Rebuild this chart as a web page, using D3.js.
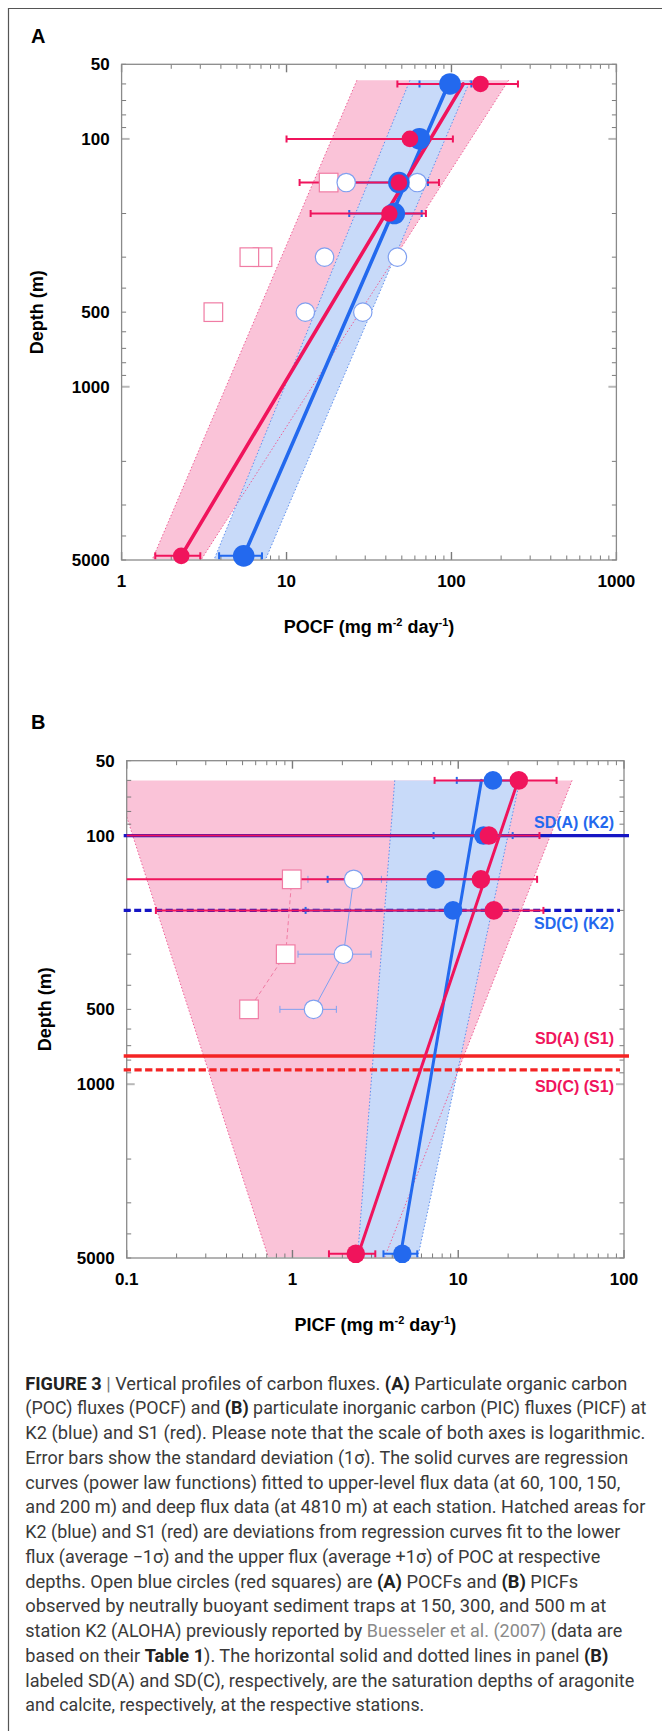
<!DOCTYPE html>
<html>
<head>
<meta charset="utf-8">
<script src="https://cdn.jsdelivr.net/npm/d3@7"></script>
<style>
  body { margin: 0; background: #fff; }
  svg { display: block; font-family: 'Liberation Sans', Arial, sans-serif; }
</style>
</head>
<body>
<svg id="fig" width="662" height="1731"></svg>
<script>
// depths (m)
const depths = [60, 100, 150, 200, 4810];
const nbstDepths = [150, 300, 500];
const regDepths = [60, 4810];
const yTickLabels = [50, 100, 500, 1000, 5000];

// (A) POC flux, mg m-2 day-1
const pocTickLabels = [1, 10, 100, 1000];
const pocK2 = [98, 64, 48, 45, 5.5];
const pocK2Sd = [34, 8, 24, 21, 1.6];
const pocS1 = [150, 56, 48, 42, 2.3];
const pocS1Sd = [103, 46, 36, 28, 0.7];
const pocNbstK2a = [23, 17, 13];
const pocNbstK2b = [62, 47, 29];
const pocAlohaDepths = [150, 300, 300, 500];
const pocAloha = [18, 7.15, 5.95, 3.6];
const pocRegK2 = [96, 5.5];
const pocRegS1 = [118, 2.3];
const pocBandDepths = [58, 4950];
const pocBandK2Lo = [56, 3.65];
const pocBandK2Hi = [130, 7.48];
const pocBandS1Lo = [26.7, 1.54];
const pocBandS1Hi = [222, 3.06];

// (B) PIC flux, mg m-2 day-1
const picTickLabels = [0.1, 1, 10, 100];
const picK2 = [16.2, 14.2, 7.3, 9.3, 4.6];
const picK2Sd = [6.4, 7.1, 5.67, 8.1, 1.06];
const picS1 = [23.2, 15.3, 13.7, 16.4, 2.41];
const picS1Sd = [16, 15.6, 16.2, 16.25, 0.75];
const picNbstK2 = [2.34, 2.03, 1.34];
const picNbstK2Sd = [1.1, 0.95, 0.5];
const picAloha = [0.99, 0.91, 0.547];
const picRegK2 = [13.8, 4.5];
const picRegS1 = [23, 2.5];
const picBandDepths = [60, 4950];
const picBandK2Lo = [4.14, 2.47];
const picBandK2Hi = [23.5, 5.71];
const picBandS1Lo = [0.085, 0.714];
const picBandS1Hi = [48.6, 3.61];

// saturation depths
const sdLabels = ['SD(A) (K2)', 'SD(C) (K2)', 'SD(A) (S1)', 'SD(C) (S1)'];
const sdDepths = [100, 200, 770, 875];

const BLUE = '#2369ee', RED = '#f0145c';
const PINK_FILL = '#fac3d8', BLUE_FILL = '#c8daf9';
const PINK_EDGE = '#ee6196', BLUE_EDGE = '#5e8fee';
const OPEN_BLUE = '#7fa0f0', OPEN_PINK = '#f07ca4';
const NAVY = '#1616c4', SDRED = '#f42424';

const svg = d3.select('#fig');
svg.append('rect').attr('width', 662).attr('height', 1731).attr('fill', '#fff');
svg.append('path').attr('d', 'M8.5,1731 V8.5 H662').attr('fill', 'none').attr('stroke', '#555').attr('stroke-width', 1.2);

const panelA = { key: 'A', left: 121.6, right: 616.4, top: 64.3, bottom: 560, xDomain: [1, 1000] };
const panelB = { key: 'B', left: 126.7, right: 624, top: 760.7, bottom: 1258, xDomain: [0.1, 100] };

function setup(p) {
  p.x = d3.scaleLog().domain(p.xDomain).range([p.left, p.right]);
  p.y = d3.scaleLog().domain([50, 5000]).range([p.top, p.bottom]);
  svg.append('defs').append('clipPath').attr('id', 'clip' + p.key)
    .append('rect')
    .attr('x', p.left).attr('y', p.top)
    .attr('width', p.right - p.left).attr('height', p.bottom - p.top);
  p.g = svg.append('g');
  p.clip = `url(#clip${p.key})`;
}

function band(p, bd, lo, hi, fill) {
  const pts = [[lo[0], bd[0]], [hi[0], bd[0]], [hi[1], bd[1]], [lo[1], bd[1]]];
  p.g.append('polygon')
    .attr('clip-path', p.clip)
    .attr('points', pts.map(d => [p.x(d[0]), p.y(d[1])].join(',')).join(' '))
    .attr('fill', fill);
}

function bandEdges(p, bd, lo, hi, color) {
  [lo, hi].forEach(v => {
    p.g.append('line')
      .attr('clip-path', p.clip)
      .attr('x1', p.x(v[0])).attr('y1', p.y(bd[0]))
      .attr('x2', p.x(v[1])).attr('y2', p.y(bd[1]))
      .attr('stroke', color).attr('stroke-width', 1)
      .attr('stroke-dasharray', '1.5,2');
  });
}

function axes(p, labels) {
  const g = p.g;
  const major = v => Math.abs(Math.log10(v) - Math.round(Math.log10(v))) < 1e-9;
  p.y.ticks().forEach(v => {
    const yy = p.y(v), m = major(v), len = m ? 8 : 4.5;
    [[p.left, 1], [p.right, -1]].forEach(([x0, s]) => {
      g.append('line').attr('x1', x0).attr('x2', x0 + s * len).attr('y1', yy).attr('y2', yy)
        .attr('stroke', m ? '#b8b8b8' : '#7a7a7a').attr('stroke-width', m ? 2 : 1);
    });
  });
  p.x.ticks().forEach(v => {
    const xx = p.x(v), m = major(v), len = m ? 8 : 4.5;
    [[p.top, 1], [p.bottom, -1]].forEach(([y0, s]) => {
      g.append('line').attr('x1', xx).attr('x2', xx).attr('y1', y0).attr('y2', y0 + s * len)
        .attr('stroke', '#7a7a7a').attr('stroke-width', m ? 1.4 : 1);
    });
  });
  g.append('rect')
    .attr('x', p.left).attr('y', p.top)
    .attr('width', p.right - p.left).attr('height', p.bottom - p.top)
    .attr('fill', 'none').attr('stroke', '#8a8a8a').attr('stroke-width', 1.3);

  g.selectAll(null).data(yTickLabels).enter().append('text')
    .attr('x', p.left - 12).attr('y', d => p.y(d)).attr('dy', '0.35em')
    .attr('text-anchor', 'end').attr('font-size', 17).attr('font-weight', 'bold')
    .text(d => d);
  g.selectAll(null).data(labels).enter().append('text')
    .attr('x', d => p.x(d)).attr('y', p.bottom + 26.5)
    .attr('text-anchor', 'middle').attr('font-size', 17).attr('font-weight', 'bold')
    .text(d => d);
}

function titles(p, name, letterY, yTitleX) {
  const g = p.g;
  g.append('text').attr('x', 31).attr('y', letterY)
    .attr('font-size', 20).attr('font-weight', 'bold').text(p.key);
  const t = g.append('text')
    .attr('x', (p.left + p.right) / 2).attr('y', p.bottom + 73)
    .attr('text-anchor', 'middle').attr('font-size', 18).attr('font-weight', 'bold');
  t.append('tspan').text(name + ' (mg m');
  t.append('tspan').attr('dy', -7).attr('font-size', 11).text('-2');
  t.append('tspan').attr('dy', 7).text(' day');
  t.append('tspan').attr('dy', -7).attr('font-size', 11).text('-1');
  t.append('tspan').attr('dy', 7).text(')');
  g.append('text')
    .attr('transform', `translate(${yTitleX},${(p.top + p.bottom) / 2}) rotate(-90)`)
    .attr('text-anchor', 'middle').attr('font-size', 18).attr('font-weight', 'bold')
    .text('Depth (m)');
}

function regLine(p, vals, color, w) {
  p.g.append('line')
    .attr('x1', p.x(vals[0])).attr('y1', p.y(regDepths[0]))
    .attr('x2', p.x(vals[1])).attr('y2', p.y(regDepths[1]))
    .attr('stroke', color).attr('stroke-width', w).attr('stroke-linecap', 'round');
}

function errBars(p, dep, mean, sd, color, w, cap) {
  const g = p.g.append('g').attr('clip-path', p.clip)
    .attr('stroke', color).attr('stroke-width', w);
  mean.forEach((m, i) => {
    const yy = p.y(dep[i]);
    const lo = m - sd[i], hi = m + sd[i];
    const x1 = lo > p.xDomain[0] ? p.x(lo) : p.left - 2;
    const x2 = p.x(hi);
    g.append('line').attr('x1', x1).attr('x2', x2).attr('y1', yy).attr('y2', yy);
    if (lo > p.xDomain[0]) g.append('line').attr('x1', x1).attr('x2', x1).attr('y1', yy - cap).attr('y2', yy + cap);
    g.append('line').attr('x1', x2).attr('x2', x2).attr('y1', yy - cap).attr('y2', yy + cap);
  });
}

function dots(p, dep, vals, r, fill, stroke) {
  p.g.selectAll(null).data(vals).enter().append('circle')
    .attr('cx', d => p.x(d)).attr('cy', (d, i) => p.y(dep[i]))
    .attr('r', r).attr('fill', fill)
    .attr('stroke', stroke || 'none').attr('stroke-width', 1.2);
}

function squares(p, dep, vals, s) {
  p.g.selectAll(null).data(vals).enter().append('rect')
    .attr('x', d => p.x(d) - s / 2).attr('y', (d, i) => p.y(dep[i]) - s / 2)
    .attr('width', s).attr('height', s)
    .attr('fill', '#fff').attr('stroke', OPEN_PINK).attr('stroke-width', 1.2);
}

// ---------- panel A ----------
setup(panelA);
band(panelA, pocBandDepths, pocBandS1Lo, pocBandS1Hi, PINK_FILL);
band(panelA, pocBandDepths, pocBandK2Lo, pocBandK2Hi, BLUE_FILL);
bandEdges(panelA, pocBandDepths, pocBandS1Lo, pocBandS1Hi, PINK_EDGE);
bandEdges(panelA, pocBandDepths, pocBandK2Lo, pocBandK2Hi, BLUE_EDGE);
axes(panelA, pocTickLabels);
titles(panelA, 'POCF', 43, 43);
regLine(panelA, pocRegK2, BLUE, 3.6);
regLine(panelA, pocRegS1, RED, 3.6);
errBars(panelA, depths, pocK2, pocK2Sd, BLUE, 2, 3.5);
errBars(panelA, depths, pocS1, pocS1Sd, RED, 2, 3.5);
squares(panelA, pocAlohaDepths, pocAloha, 18.6);
dots(panelA, nbstDepths, pocNbstK2a, 9.2, '#fff', OPEN_BLUE);
dots(panelA, nbstDepths, pocNbstK2b, 9.2, '#fff', OPEN_BLUE);
dots(panelA, depths, pocK2, 10.8, BLUE);
dots(panelA, depths, pocS1, 8.3, RED);

// ---------- panel B ----------
setup(panelB);
band(panelB, picBandDepths, picBandS1Lo, picBandS1Hi, PINK_FILL);
band(panelB, picBandDepths, picBandK2Lo, picBandK2Hi, BLUE_FILL);
bandEdges(panelB, picBandDepths, picBandS1Lo, picBandS1Hi, PINK_EDGE);
bandEdges(panelB, picBandDepths, picBandK2Lo, picBandK2Hi, BLUE_EDGE);
axes(panelB, picTickLabels);
titles(panelB, 'PICF', 729, 51);

// saturation depth lines
const sdColor = [NAVY, NAVY, SDRED, SDRED];
const sdText = [BLUE, BLUE, RED, RED];
const sdDash = [null, '7,3.5', null, '7.3,3.4'];
const sdDy = [-8, 19, -12, 22];
sdDepths.forEach((d, i) => {
  const yy = panelB.y(d);
  panelB.g.append('line')
    .attr('x1', panelB.left - 3).attr('x2', panelB.right + (sdDash[i] ? -4 : 5))
    .attr('y1', yy).attr('y2', yy)
    .attr('stroke', sdColor[i]).attr('stroke-width', 3.3)
    .attr('stroke-dasharray', sdDash[i]);
  panelB.g.append('text')
    .attr('x', panelB.right - 10).attr('y', yy + sdDy[i])
    .attr('text-anchor', 'end').attr('font-size', 16).attr('font-weight', 'bold')
    .attr('fill', sdText[i]).text(sdLabels[i]);
});

const conn = d3.line().x(d => panelB.x(d[0])).y(d => panelB.y(d[1]));
panelB.g.append('path')
  .attr('d', conn(picAloha.map((v, i) => [v, nbstDepths[i]])))
  .attr('fill', 'none').attr('stroke', OPEN_PINK).attr('stroke-width', 1)
  .attr('stroke-dasharray', '4,3');
panelB.g.append('path')
  .attr('d', conn(picNbstK2.map((v, i) => [v, nbstDepths[i]])))
  .attr('fill', 'none').attr('stroke', OPEN_BLUE).attr('stroke-width', 1);

regLine(panelB, picRegK2, BLUE, 3);
regLine(panelB, picRegS1, RED, 3);
errBars(panelB, nbstDepths, picNbstK2, picNbstK2Sd, OPEN_BLUE, 1, 3.5);
errBars(panelB, depths, picK2, picK2Sd, BLUE, 2, 3.5);
errBars(panelB, depths, picS1, picS1Sd, RED, 2, 3.5);
squares(panelB, nbstDepths, picAloha, 18.6);
dots(panelB, nbstDepths, picNbstK2, 9.3, '#fff', OPEN_BLUE);
dots(panelB, depths, picK2, 9.3, BLUE);
dots(panelB, depths, picS1, 9.3, RED);

// ---------- caption ----------
const caption = [
  [['b', 'FIGURE 3'], ['g', ' | '], ['n', 'Vertical profiles of carbon fluxes. '], ['b', '(A)'], ['n', ' Particulate organic carbon']],
  [['n', '(POC) fluxes (POCF) and '], ['b', '(B)'], ['n', ' particulate inorganic carbon (PIC) fluxes (PICF) at']],
  [['n', 'K2 (blue) and S1 (red). Please note that the scale of both axes is logarithmic.']],
  [['n', 'Error bars show the standard deviation (1\u03c3). The solid curves are regression']],
  [['n', 'curves (power law functions) fitted to upper-level flux data (at 60, 100, 150,']],
  [['n', 'and 200 m) and deep flux data (at 4810 m) at each station. Hatched areas for']],
  [['n', 'K2 (blue) and S1 (red) are deviations from regression curves fit to the lower']],
  [['n', 'flux (average \u22121\u03c3) and the upper flux (average +1\u03c3) of POC at respective']],
  [['n', 'depths. Open blue circles (red squares) are '], ['b', '(A)'], ['n', ' POCFs and '], ['b', '(B)'], ['n', ' PICFs']],
  [['n', 'observed by neutrally buoyant sediment traps at 150, 300, and 500 m at']],
  [['n', 'station K2 (ALOHA) previously reported by '], ['l', 'Buesseler et al. (2007)'], ['n', ' (data are']],
  [['n', 'based on their '], ['b', 'Table 1'], ['n', '). The horizontal solid and dotted lines in panel '], ['b', '(B)']],
  [['n', 'labeled SD(A) and SD(C), respectively, are the saturation depths of aragonite']],
  [['n', 'and calcite, respectively, at the respective stations.']]
];
const captionWidths = [602, 621, 620, 603, 595, 620, 595, 575, 553, 581, 597, 583, 609, 399];

const cap = svg.append('g').attr('font-family', "Roboto, 'Liberation Sans', sans-serif")
  .attr('font-size', 17.5).style('white-space', 'pre');
caption.forEach((parts, i) => {
  const t = cap.append('text')
    .attr('x', 25.3).attr('y', 1389.5 + i * 24.75)
    .attr('textLength', captionWidths[i]).attr('lengthAdjust', 'spacingAndGlyphs');
  parts.forEach(([k, s]) => {
    t.append('tspan')
      .attr('font-weight', k === 'b' ? 700 : 400)
      .attr('fill', k === 'b' ? '#222' : k === 'l' ? '#8a8a8a' : k === 'g' ? '#777' : '#3a3a3a')
      .text(s);
  });
});
</script>
</body>
</html>
